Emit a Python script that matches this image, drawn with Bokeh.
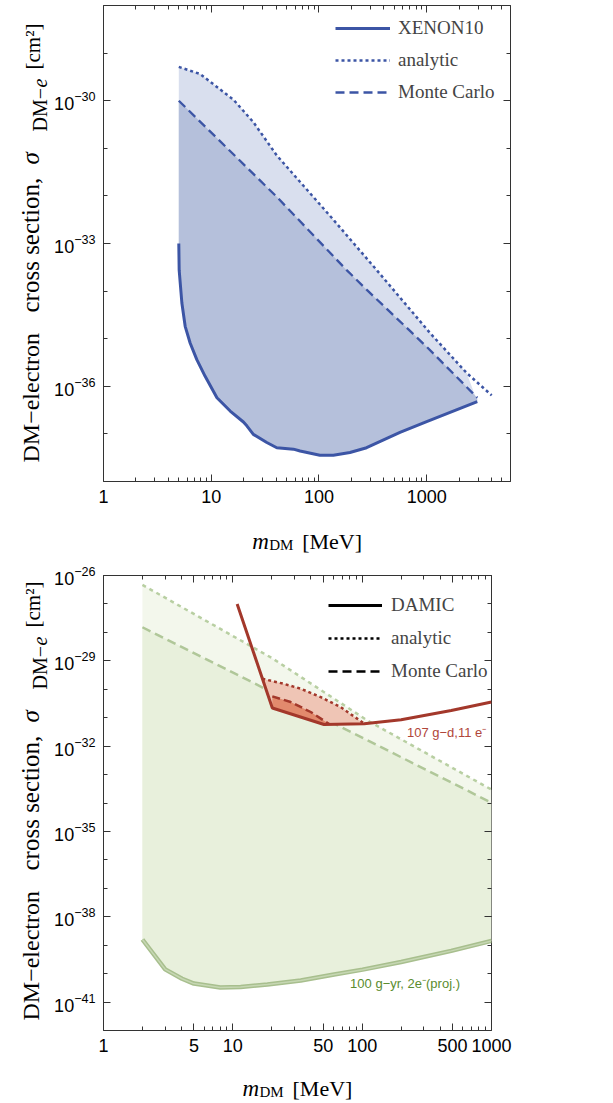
import math
import numpy as np
from bokeh.plotting import figure
from bokeh.models import (LogAxis, FixedTicker, Label, Legend, LegendItem,
                          ColumnDataSource, PrintfTickFormatter, Range1d)
from bokeh.core.properties import value
from bokeh.layouts import column, row
from bokeh.embed import file_html
from bokeh.resources import INLINE

# ---------------- data (x: m_DM [MeV], y: log10 sigma [cm^2]) ----------------
# top panel: XENON10
xenon_m = [5.0, 5.04, 5.34, 5.73, 6.37, 7.35, 8.78, 11.3, 15.0, 19.9, 21.4, 24.6,
           32.8, 40.6, 58.0, 66.8, 102, 136, 194, 277, 565, 1000, 2950]
xenon_logsig = [-33.0, -33.56, -34.25, -34.74, -35.09, -35.44, -35.79, -36.24, -36.52,
                -36.75, -36.83, -37.01, -37.18, -37.29, -37.32, -37.36, -37.45, -37.45,
                -37.39, -37.29, -36.97, -36.74, -36.32]
xenon_analytic_m = [5.0, 7.9, 16.1, 24.6, 40.6, 136, 344, 1074, 2350, 4010]
xenon_analytic_logsig = [-29.29, -29.44, -29.98, -30.45, -31.15, -32.5, -33.56,
                         -34.88, -35.72, -36.19]
xenon_mc_m = [5.0, 40.6, 181, 277, 1000, 2950]
xenon_mc_logsig = [-30.0, -32.02, -33.56, -33.97, -35.17, -36.24]

# bottom panel: DAMIC (red) and 100 g-yr projection (green)
damic_m = [10.8, 20.2, 50.7, 103.7, 200, 488, 1000]
damic_logsig = [-27.0, -30.66, -31.24, -31.21, -31.07, -30.75, -30.45]
damic_analytic_m = [16.9, 24.8, 33.5, 47.9, 68.4, 103]
damic_analytic_logsig = [-29.63, -29.81, -29.98, -30.28, -30.63, -31.2]
damic_mc_m = [20.2, 28, 40, 55.5]
damic_mc_logsig = [-30.25, -30.45, -30.8, -31.22]

proj_m = [2.0, 3.0, 4.05, 5.0, 8.0, 11.5, 18.5, 33.5, 60.7, 100.7, 200, 488, 1000]
proj_logsig = [-38.8, -39.85, -40.18, -40.35, -40.49, -40.47, -40.38, -40.24, -40.03,
               -39.86, -39.59, -39.2, -38.85]
proj_analytic_m = [2.0, 20, 110, 1000]
proj_analytic_logsig = [-26.33, -28.9, -31.1, -33.53]
proj_mc_m = [2.0, 20, 61, 1000]
proj_mc_logsig = [-27.82, -30.1, -31.21, -33.99]

# axis ticks
top_x_major = [1, 10, 100, 1000]
top_y_major_exp = [-36, -33, -30]
bot_x_major = [1, 5, 10, 50, 100, 500, 1000]
bot_y_major_exp = [-41, -38, -35, -32, -29, -26]

top_legend = ["XENON10", "analytic", "Monte Carlo"]
bot_legend = ["DAMIC", "analytic", "Monte Carlo"]
damic_note = "107 g\u2212d,11 e\u207b"
proj_note = "100 g\u2212yr, 2e\u207b(proj.)"

# ---------------- helpers ----------------
def sig(a):
    return list(10.0 ** np.asarray(a, dtype=float))

BLUE = "#3c55a5"
RED = "#a3382b"
TICK = "#333333"
SERIF = "Liberation Serif"
SANS = "Liberation Sans"
BASE_FIX = 7.0   # baseline correction of the text glyph


def style_axis(ax, ticker, labels=True, formatter=None):
    ax.ticker = ticker
    ax.axis_line_color = None
    ax.major_tick_line_color = TICK
    ax.minor_tick_line_color = TICK
    ax.major_tick_in = 7
    ax.major_tick_out = 0
    ax.minor_tick_in = 4
    ax.minor_tick_out = 0
    if labels:
        ax.major_label_text_font = SANS
        ax.major_label_text_font_size = "18px"
        ax.major_label_text_color = "black"
        ax.major_label_standoff = 8
        if formatter is not None:
            ax.formatter = formatter
    else:
        ax.major_label_text_font_size = "1px"
        ax.major_label_text_alpha = 0
        ax.major_label_standoff = 0


def note(p, x, y, text, color):
    p.add_layout(Label(x=x, y=y, text=text, text_font=SANS, text_font_size="13px",
                       text_color=color, text_align="left", text_baseline="middle"))


def strip(w, h, left=0, right=0, top=0, bottom=0):
    fw, fh = w - left - right, h - top - bottom
    f = figure(width=w, height=h, x_range=Range1d(0, fw), y_range=Range1d(0, fh),
               title=None, output_backend="svg", toolbar_location=None,
               min_border_left=left, min_border_right=right,
               min_border_top=top, min_border_bottom=bottom,
               x_axis_location=None, y_axis_location=None, outline_line_color=None)
    f.xgrid.visible = False
    f.ygrid.visible = False
    return f


def piece(f, x, y, text, size, style="normal", angle=0.0):
    f.text(x=[x], y=[y], text=[text], angle=angle,
           text_font=value(SERIF), text_font_size=value(f"{size}px"),
           text_font_style=style, text_align="left", text_baseline="alphabetic",
           text_color="black")


def y_label(f, s):
    # s: distance of the label start above the frame bottom; x: baseline position
    a = math.pi / 2
    bx = 37.3 - BASE_FIX
    piece(f, bx, s, "DM\u2212electron", 24, angle=a)
    piece(f, bx, s + 150, "cross section,", 25, angle=a)
    piece(f, bx, s + 298, "\u03c3", 25, style="italic", angle=a)
    piece(f, bx + 8.7, s + 331, "DM\u2212", 20, angle=a)
    piece(f, bx + 8.7, s + 375, "e", 20, style="italic", angle=a)
    piece(f, bx + 1.7, s + 393, "[cm\u00b2]", 21, angle=a)


def x_label(f, x0, base):
    b = base + BASE_FIX
    piece(f, x0, b, "m", 23, style="italic")
    piece(f, x0 + 17, b - 3.5, "DM", 15)
    piece(f, x0 + 50, b, "[MeV]", 22)


def setup(p, xt, yt, xfmt):
    p.xgrid.visible = False
    p.ygrid.visible = False
    p.outline_line_color = TICK
    p.outline_line_width = 1
    style_axis(p.xaxis[0], xt, True, xfmt)
    style_axis(p.yaxis[0], yt, True)
    ax_top = LogAxis()
    style_axis(ax_top, xt, False)
    p.add_layout(ax_top, "above")
    ax_right = LogAxis()
    style_axis(ax_right, yt, False)
    p.add_layout(ax_right, "right")


YW, PW = 50, 562
LB = 53          # plot left border (frame left at YW + LB = 103)
XR = 121         # right border shared by both x-label strips

# ---------------- top panel ----------------
H1, T1, B1, R1 = 522, 5, 41, 102
p1 = figure(width=PW, height=H1, x_axis_type="log", y_axis_type="log",
            x_range=(1, 6000), y_range=(1e-38, 1e-28), title=None,
            output_backend="svg", toolbar_location=None,
            min_border_left=LB, min_border_right=R1, min_border_top=T1, min_border_bottom=B1)

xt1 = FixedTicker(ticks=top_x_major,
                  minor_ticks=[d * 10.0 ** k for k in range(0, 4) for d in range(2, 10)])
yt1 = FixedTicker(ticks=[10.0 ** e for e in top_y_major_exp],
                  minor_ticks=[10.0 ** k for k in range(-38, -27)])
setup(p1, xt1, yt1, PrintfTickFormatter(format="%d"))

xe_end = xenon_m[-1]
light_x = [m for m in xenon_analytic_m if m <= xe_end] + xenon_m[::-1]
light_y = sig([s for m, s in zip(xenon_analytic_m, xenon_analytic_logsig) if m <= xe_end]
              + xenon_logsig[::-1])
p1.patch(light_x, light_y, fill_color="#d9dfee", line_color=None)
p1.patch(xenon_mc_m + xenon_m[::-1], sig(xenon_mc_logsig + xenon_logsig[::-1]),
         fill_color="#b5c0db", line_color=None)

r_an1 = p1.line(xenon_analytic_m, sig(xenon_analytic_logsig), line_color=BLUE,
                line_width=2.5, line_dash="3 3")
r_mc1 = p1.line(xenon_mc_m, sig(xenon_mc_logsig), line_color=BLUE,
                line_width=2.3, line_dash="9 5")
r_xe = p1.line(xenon_m, sig(xenon_logsig), line_color=BLUE, line_width=3)

leg1 = Legend(items=[LegendItem(label=top_legend[0], renderers=[r_xe]),
                     LegendItem(label=top_legend[1], renderers=[r_an1]),
                     LegendItem(label=top_legend[2], renderers=[r_mc1])],
              location=(232, 378), padding=0, margin=0, spacing=10,
              glyph_width=55, glyph_height=22, label_height=22, label_standoff=8,
              label_text_font=SERIF, label_text_font_size="19px",
              background_fill_alpha=0, border_line_alpha=0)
p1.add_layout(leg1)

yl1 = strip(YW, H1, top=T1, bottom=B1)
y_label(yl1, 19)
xl1 = strip(YW + PW, 38, left=YW + LB, right=XR)
x_label(xl1, 148.7, 11.7)

# ---------------- bottom panel ----------------
H2, T2, B2, R2 = 511, 15, 41, 121
p2 = figure(width=PW, height=H2, x_axis_type="log", y_axis_type="log",
            x_range=(1, 1000), y_range=(1e-42, 1e-26), title=None,
            output_backend="svg", toolbar_location=None,
            min_border_left=LB, min_border_right=R2, min_border_top=T2, min_border_bottom=B2)

xt2 = FixedTicker(ticks=bot_x_major,
                  minor_ticks=[d * 10.0 ** k for k in range(0, 3) for d in range(2, 10) if d != 5])
yt2 = FixedTicker(ticks=[10.0 ** e for e in bot_y_major_exp],
                  minor_ticks=[10.0 ** k for k in range(-42, -25)])
setup(p2, xt2, yt2, PrintfTickFormatter(format="%d"))

# green projection
p2.patch(proj_analytic_m + proj_m[::-1], sig(proj_analytic_logsig + proj_logsig[::-1]),
         fill_color="#f3f7ec", line_color=None)
p2.patch(proj_mc_m + proj_m[::-1], sig(proj_mc_logsig + proj_logsig[::-1]),
         fill_color="#e8f0dc", line_color=None)
p2.line(proj_analytic_m, sig(proj_analytic_logsig), line_color="#b8cfa2",
        line_width=2.5, line_dash="4 4")
p2.line(proj_mc_m, sig(proj_mc_logsig), line_color="#b0c799",
        line_width=2.5, line_dash="9 5")
p2.line(proj_m, sig(proj_logsig), line_color="#a8bf8e", line_width=4.5)
p2.line(proj_m, sig(proj_logsig), line_color="#c6d7b3", line_width=1.5)

# red DAMIC
a0, a1 = damic_analytic_m[0], damic_analytic_m[-1]
inner = [(m, s) for m, s in zip(damic_m, damic_logsig) if a0 < m < a1][::-1]
p2.patch(damic_analytic_m + [m for m, _ in inner],
         sig(damic_analytic_logsig + [s for _, s in inner]),
         fill_color="#efc5b5", line_color=None)
c0, c1 = damic_mc_m[0], damic_mc_m[-1]
inner2 = [(m, s) for m, s in zip(damic_m, damic_logsig) if c0 <= m < c1][::-1]
p2.patch(damic_mc_m + [m for m, _ in inner2],
         sig(damic_mc_logsig + [s for _, s in inner2]),
         fill_color="#e28a6d", line_color=None)
p2.line(damic_analytic_m, sig(damic_analytic_logsig), line_color=RED,
        line_width=2.5, line_dash="3 3")
p2.line(damic_mc_m, sig(damic_mc_logsig), line_color=RED,
        line_width=2.5, line_dash="8 4")
p2.line(damic_m, sig(damic_logsig), line_color=RED, line_width=3)

# legend proxies (black line styles, nothing drawn in the frame)
proxy = ColumnDataSource(data=dict(x=np.array([np.nan]), y=np.array([np.nan])))
k_solid = p2.line("x", "y", source=proxy, line_color="black", line_width=3)
k_dot = p2.line("x", "y", source=proxy, line_color="black", line_width=2.5, line_dash="3 3")
k_dash = p2.line("x", "y", source=proxy, line_color="black", line_width=2.5, line_dash="9 5")
leg2 = Legend(items=[LegendItem(label=bot_legend[0], renderers=[k_solid]),
                     LegendItem(label=bot_legend[1], renderers=[k_dot]),
                     LegendItem(label=bot_legend[2], renderers=[k_dash])],
              location=(225, 348), padding=0, margin=0, spacing=11,
              glyph_width=54, glyph_height=22, label_height=22, label_standoff=9,
              label_text_font=SERIF, label_text_font_size="19px",
              background_fill_alpha=0, border_line_alpha=0)
p2.add_layout(leg2)

note(p2, 222, 10 ** -31.51, damic_note, "#b0463a")
note(p2, 80.7, 10 ** -40.35, proj_note, "#5a8c2e")

yl2 = strip(YW, H2, top=T2, bottom=B2)
y_label(yl2, 10)
xl2 = strip(YW + PW, 31, left=YW + LB, right=XR)
x_label(xl2, 139, 7)

layout = column(row(yl1, p1), xl1, row(yl2, p2), xl2)
open("out.html", "w").write(file_html(layout, INLINE))
